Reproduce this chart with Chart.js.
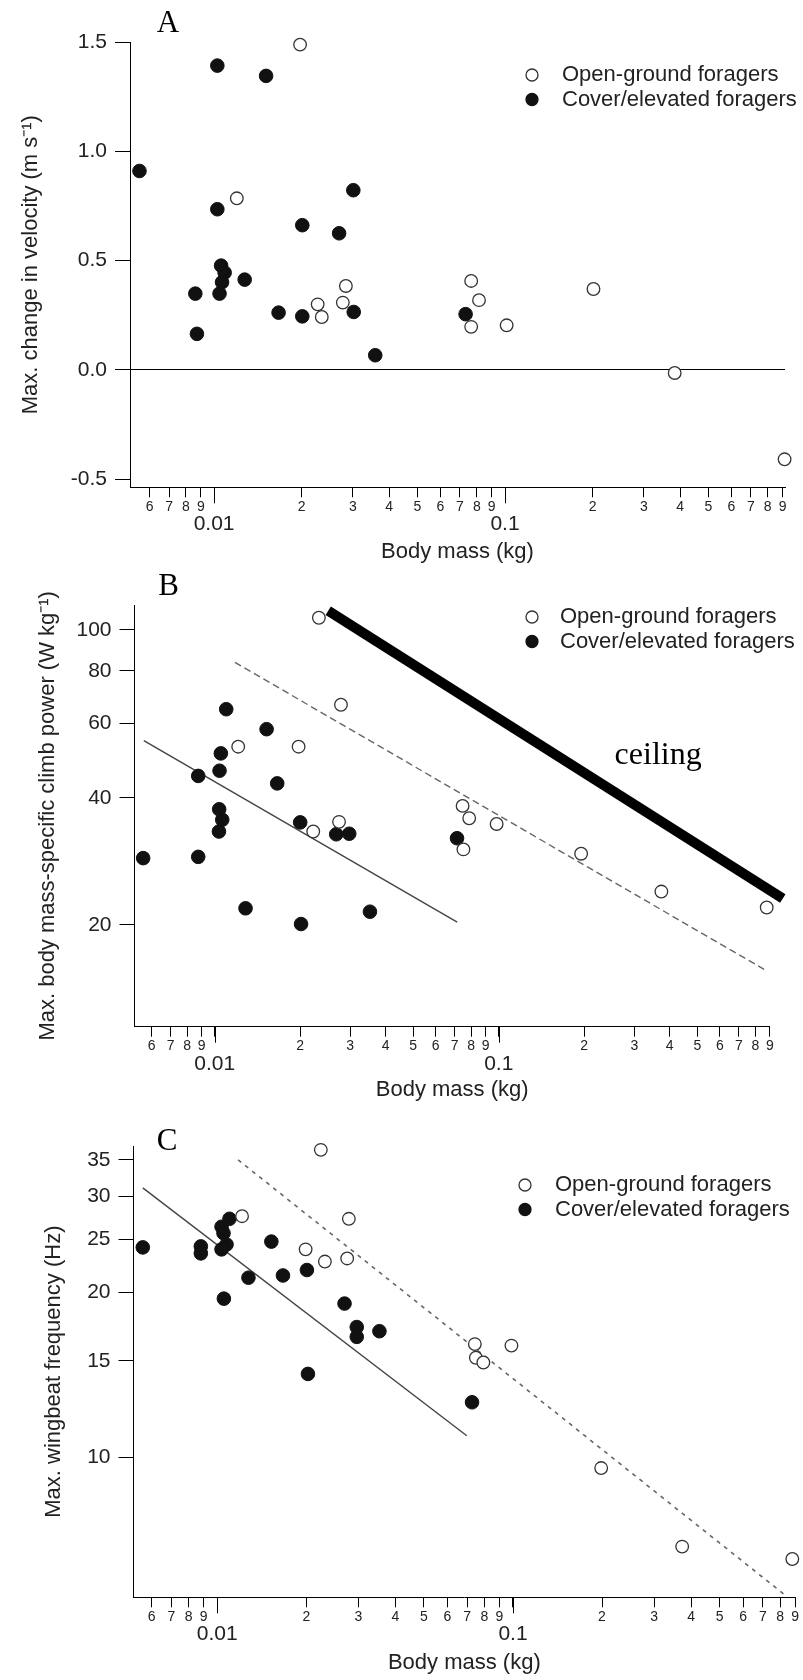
<!DOCTYPE html>
<html lang="en">
<head>
  <meta charset="UTF-8">
  <title>Body mass and take-off performance</title>
  <style>
    body {
      margin: 0;
      background-color: #fff;
    }
    canvas {
      display: block;
    }
  </style>
</head>
<body>
  <canvas id="chartA" width="803" height="565"></canvas>
  <canvas id="chartB" width="803" height="540"></canvas>
  <canvas id="chartC" width="803" height="575"></canvas>

  <script src="https://cdn.jsdelivr.net/npm/chart.js"></script>
  <script>
    // body mass axis (kg), shared by all three panels
    const massTicks = [0.006, 0.007, 0.008, 0.009, 0.01, 0.02, 0.03, 0.04, 0.05, 0.06, 0.07, 0.08, 0.09,
                       0.1, 0.2, 0.3, 0.4, 0.5, 0.6, 0.7, 0.8, 0.9];
    const massMajor = [0.01, 0.1];

    // A - max change in velocity (m/s)
    const aOpenMass = [0.01975, 0.01197, 0.0227, 0.02345, 0.0277, 0.02838, 0.0765, 0.0814, 0.0765, 0.1013, 0.2014, 0.383, 0.914];
    const aOpenVel = [1.488, 0.785, 0.300, 0.242, 0.308, 0.384, 0.407, 0.319, 0.197, 0.204, 0.370, -0.014, -0.409];
    const aCoverMass = [0.00554, 0.01026, 0.01509, 0.01026, 0.0301, 0.0201, 0.0269, 0.01057, 0.01087, 0.01065,
                        0.01274, 0.00862, 0.01044, 0.00873, 0.01666, 0.0201, 0.0302, 0.0358, 0.0732];
    const aCoverVel = [0.910, 1.392, 1.345, 0.735, 0.822, 0.662, 0.625, 0.477, 0.445, 0.401,
                       0.413, 0.349, 0.349, 0.165, 0.262, 0.245, 0.265, 0.067, 0.255];
    const aTicks = [-0.5, 0, 0.5, 1.0, 1.5];

    // B - max mass-specific climb power (W/kg)
    const bOpenMass = [0.02327, 0.02783, 0.0121, 0.01974, 0.02223, 0.0274, 0.0746, 0.0787, 0.0983, 0.0751, 0.195, 0.3737, 0.8777];
    const bOpenPow = [106.9, 66.5, 52.9, 52.9, 33.3, 35.1, 38.3, 35.8, 34.7, 30.2, 29.5, 24.0, 22.0];
    const bCoverMass = [0.01098, 0.01523, 0.01051, 0.0104, 0.00875, 0.0166, 0.01037, 0.01063, 0.01035,
                        0.02, 0.02678, 0.02976, 0.0056, 0.00875, 0.01284, 0.02014, 0.0352, 0.0713];
    const bCoverPow = [64.9, 58.2, 51.0, 46.4, 45.1, 43.3, 37.6, 35.5, 33.3,
                       35.0, 32.8, 32.9, 28.8, 29.0, 21.9, 20.1, 21.5, 32.1];
    const bTicks = [20, 40, 60, 80, 100];
    const bCoverFitMass = [0.00563, 0.0714];
    const bCoverFitPow = [54.7, 20.3];
    const bOpenFitMass = [0.01178, 0.859];
    const bOpenFitPow = [83.8, 15.7];
    const ceilingMass = [0.0251, 1.0];
    const ceilingPow = [111, 23.1];

    // C - max wingbeat frequency (Hz)
    const cOpenMass = [0.01213, 0.0199, 0.02312, 0.0275, 0.02786, 0.0224, 0.0743, 0.0749, 0.0794, 0.0988, 0.1987, 0.3733, 0.88];
    const cOpenFreq = [27.6, 24.0, 22.8, 23.1, 27.3, 36.5, 16.1, 15.2, 14.9, 16.0, 9.55, 6.86, 6.51];
    const cCoverMass = [0.0056, 0.0088, 0.0088, 0.0110, 0.01034, 0.0105, 0.01075, 0.01034, 0.01275, 0.01053,
                        0.01524, 0.01668, 0.0201, 0.02026, 0.02694, 0.02963, 0.02963, 0.03535, 0.0727];
    const cCoverFreq = [24.2, 24.3, 23.6, 27.3, 26.4, 25.7, 24.5, 24.0, 21.3, 19.5,
                        24.8, 21.5, 22.0, 14.2, 19.1, 17.3, 16.6, 17.0, 12.6];
    const cTicks = [10, 15, 20, 25, 30, 35];
    const cCoverFitMass = [0.0056, 0.0698];
    const cCoverFitFreq = [31.1, 10.94];
    const cOpenFitMass = [0.01176, 0.829];
    const cOpenFitFreq = [35.0, 5.6];

    Chart.defaults.font.family = '"Liberation Sans", Arial, sans-serif';
    Chart.defaults.color = '#222';

    function pts(xs, ys) {
      return xs.map((x, i) => ({ x: x, y: ys[i] }));
    }

    function openSet(xs, ys) {
      return { label: 'Open-ground foragers', data: pts(xs, ys), pointRadius: 6.3, pointHoverRadius: 6.3,
               backgroundColor: '#fff', borderColor: '#333', borderWidth: 1.3, order: 0, clip: false };
    }
    function coverSet(xs, ys) {
      return { label: 'Cover/elevated foragers', data: pts(xs, ys), pointRadius: 6.8, pointHoverRadius: 6.8,
               backgroundColor: '#111', borderColor: '#111', borderWidth: 1, order: 0, clip: false };
    }
    function lineSet(xs, ys, color, width, dash) {
      return { type: 'line', data: pts(xs, ys), borderColor: color, borderWidth: width, borderDash: dash,
               borderCapStyle: 'butt', pointRadius: 0, fill: false, order: 1, clip: false };
    }

    // panel letter, legend, longer major ticks and the text note
    const panelExtras = {
      id: 'panelExtras',
      afterDraw(chart, args, o) {
        const ctx = chart.ctx;
        const xs = chart.scales.x;
        ctx.save();
        ctx.strokeStyle = '#000';
        ctx.lineWidth = 1;
        massMajor.forEach(v => {
          const px = Math.round(xs.getPixelForValue(v)) + 0.5;
          ctx.beginPath();
          ctx.moveTo(px, xs.top);
          ctx.lineTo(px, xs.top + 16);
          ctx.stroke();
        });

        ctx.fillStyle = '#000';
        ctx.font = '31px "Liberation Serif", serif';
        ctx.textAlign = 'center';
        ctx.textBaseline = 'alphabetic';
        ctx.fillText(o.letter, o.letterX, o.letterY);

        ctx.font = '22px "Liberation Sans", Arial, sans-serif';
        ctx.textAlign = 'left';
        ctx.textBaseline = 'middle';
        let y = o.legendY;
        chart.data.datasets.forEach(d => {
          if (d.type) return;
          ctx.beginPath();
          ctx.arc(o.legendX, y, 6, 0, Math.PI * 2);
          ctx.fillStyle = d.backgroundColor;
          ctx.fill();
          ctx.lineWidth = 1.3;
          ctx.strokeStyle = d.borderColor;
          ctx.stroke();
          ctx.fillStyle = '#222';
          ctx.fillText(d.label, o.textX, y);
          y += 24.5;
        });

        if (o.note) {
          ctx.fillStyle = '#000';
          ctx.font = '32px "Liberation Serif", serif';
          ctx.textAlign = 'center';
          ctx.textBaseline = 'alphabetic';
          ctx.fillText(o.note.text, xs.getPixelForValue(o.note.x), chart.scales.y.getPixelForValue(o.note.y));
        }
        ctx.restore();
      }
    };

    function makePanel(id, p) {
      return new Chart(document.getElementById(id), {
        type: 'scatter',
        data: { datasets: p.datasets },
        options: {
          responsive: false,
          animation: false,
          events: [],
          layout: { padding: { left: 0, top: p.top, right: p.right, bottom: 0 } },
          plugins: {
            legend: { display: false },
            tooltip: { enabled: false },
            panelExtras: p.extras
          },
          scales: {
            x: {
              type: 'logarithmic',
              min: p.xMin,
              max: p.xMax,
              bounds: 'data',
              afterBuildTicks: s => { s.ticks = massTicks.map(v => ({ value: v })); },
              afterFit: s => { s.height = p.xHeight; },
              border: { color: '#000', width: 1 },
              grid: { drawOnChartArea: false, tickLength: 10, tickColor: '#000' },
              ticks: {
                autoSkip: false,
                maxRotation: 0,
                minRotation: 0,
                padding: 1,
                color: '#222',
                font: c => (c.tick && massMajor.includes(c.tick.value)) ? { size: 21, lineHeight: 0.83 } : { size: 14 },
                callback: v => massMajor.includes(v) ? ['', String(v)]
                  : String(Math.round(v / Math.pow(10, Math.floor(Math.log10(v) + 1e-9))))
              },
              title: { display: true, text: 'Body mass (kg)', color: '#222', font: { size: 22 },
                       padding: { top: 0, bottom: p.xTitlePad } }
            },
            y: {
              type: p.yType,
              min: p.yMin,
              max: p.yMax,
              bounds: 'data',
              afterBuildTicks: s => { s.ticks = p.yTicks.map(v => ({ value: v })); },
              afterFit: s => { s.width = p.yWidth; },
              border: { color: '#000', width: 1 },
              grid: {
                drawOnChartArea: p.zeroLine,
                color: c => (c.tick && c.tick.value === 0) ? '#000' : 'rgba(0,0,0,0)',
                tickLength: 15,
                tickColor: '#000'
              },
              ticks: { padding: 8, color: '#222', font: { size: 21 }, callback: p.yLabel },
              title: { display: true, text: p.yTitle, color: '#222', font: { size: 22 },
                       padding: { top: p.yTitlePad, bottom: 0 } }
            }
          }
        },
        plugins: [panelExtras]
      });
    }

    makePanel('chartA', {
      datasets: [openSet(aOpenMass, aOpenVel), coverSet(aCoverMass, aCoverVel)],
      top: 42, right: 18, xHeight: 77.7, xTitlePad: 0, yWidth: 130, yTitlePad: 17.8,
      xMin: 0.00514, xMax: 0.917,
      yType: 'linear', yMin: -0.537, yMax: 1.5, yTicks: aTicks, zeroLine: true,
      yLabel: v => v.toFixed(1),
      yTitle: 'Max. change in velocity (m s\u207B\u00B9)',
      extras: { letter: 'A', letterX: 168, letterY: 31.7, legendX: 532, legendY: 75, textX: 562 }
    });

    makePanel('chartB', {
      datasets: [
        openSet(bOpenMass, bOpenPow),
        coverSet(bCoverMass, bCoverPow),
        lineSet(bCoverFitMass, bCoverFitPow, '#444', 1.4, []),
        lineSet(bOpenFitMass, bOpenFitPow, '#666', 1.4, [7, 4]),
        lineSet(ceilingMass, ceilingPow, '#000', 10, [])
      ],
      top: 40, right: 33.2, xHeight: 78.3, xTitlePad: 1.8, yWidth: 134.5, yTitlePad: 34.3,
      xMin: 0.00522, xMax: 0.9,
      yType: 'logarithmic', yMin: 11.48, yMax: 114.6, yTicks: bTicks, zeroLine: false,
      yLabel: v => String(v),
      yTitle: 'Max. body mass-specific climb power (W kg\u207B\u00B9)',
      extras: { letter: 'B', letterX: 168.5, letterY: 30, legendX: 532, legendY: 52, textX: 560,
                note: { text: 'ceiling', x: 0.364, y: 48.1 } }
    });

    makePanel('chartC', {
      datasets: [
        openSet(cOpenMass, cOpenFreq),
        coverSet(cCoverMass, cCoverFreq),
        lineSet(cCoverFitMass, cCoverFitFreq, '#444', 1.4, []),
        lineSet(cOpenFitMass, cOpenFitFreq, '#666', 1.6, [4, 5])
      ],
      top: 41, right: 6.2, xHeight: 82.7, xTitlePad: 3.8, yWidth: 133.5, yTitlePad: 40.8,
      xMin: 0.00521, xMax: 0.9,
      yType: 'logarithmic', yMin: 5.54, yMax: 37.1, yTicks: cTicks, zeroLine: false,
      yLabel: v => String(v),
      yTitle: 'Max. wingbeat frequency (Hz)',
      extras: { letter: 'C', letterX: 167, letterY: 45, legendX: 525, legendY: 80, textX: 555 }
    });
  </script>
</body>
</html>
